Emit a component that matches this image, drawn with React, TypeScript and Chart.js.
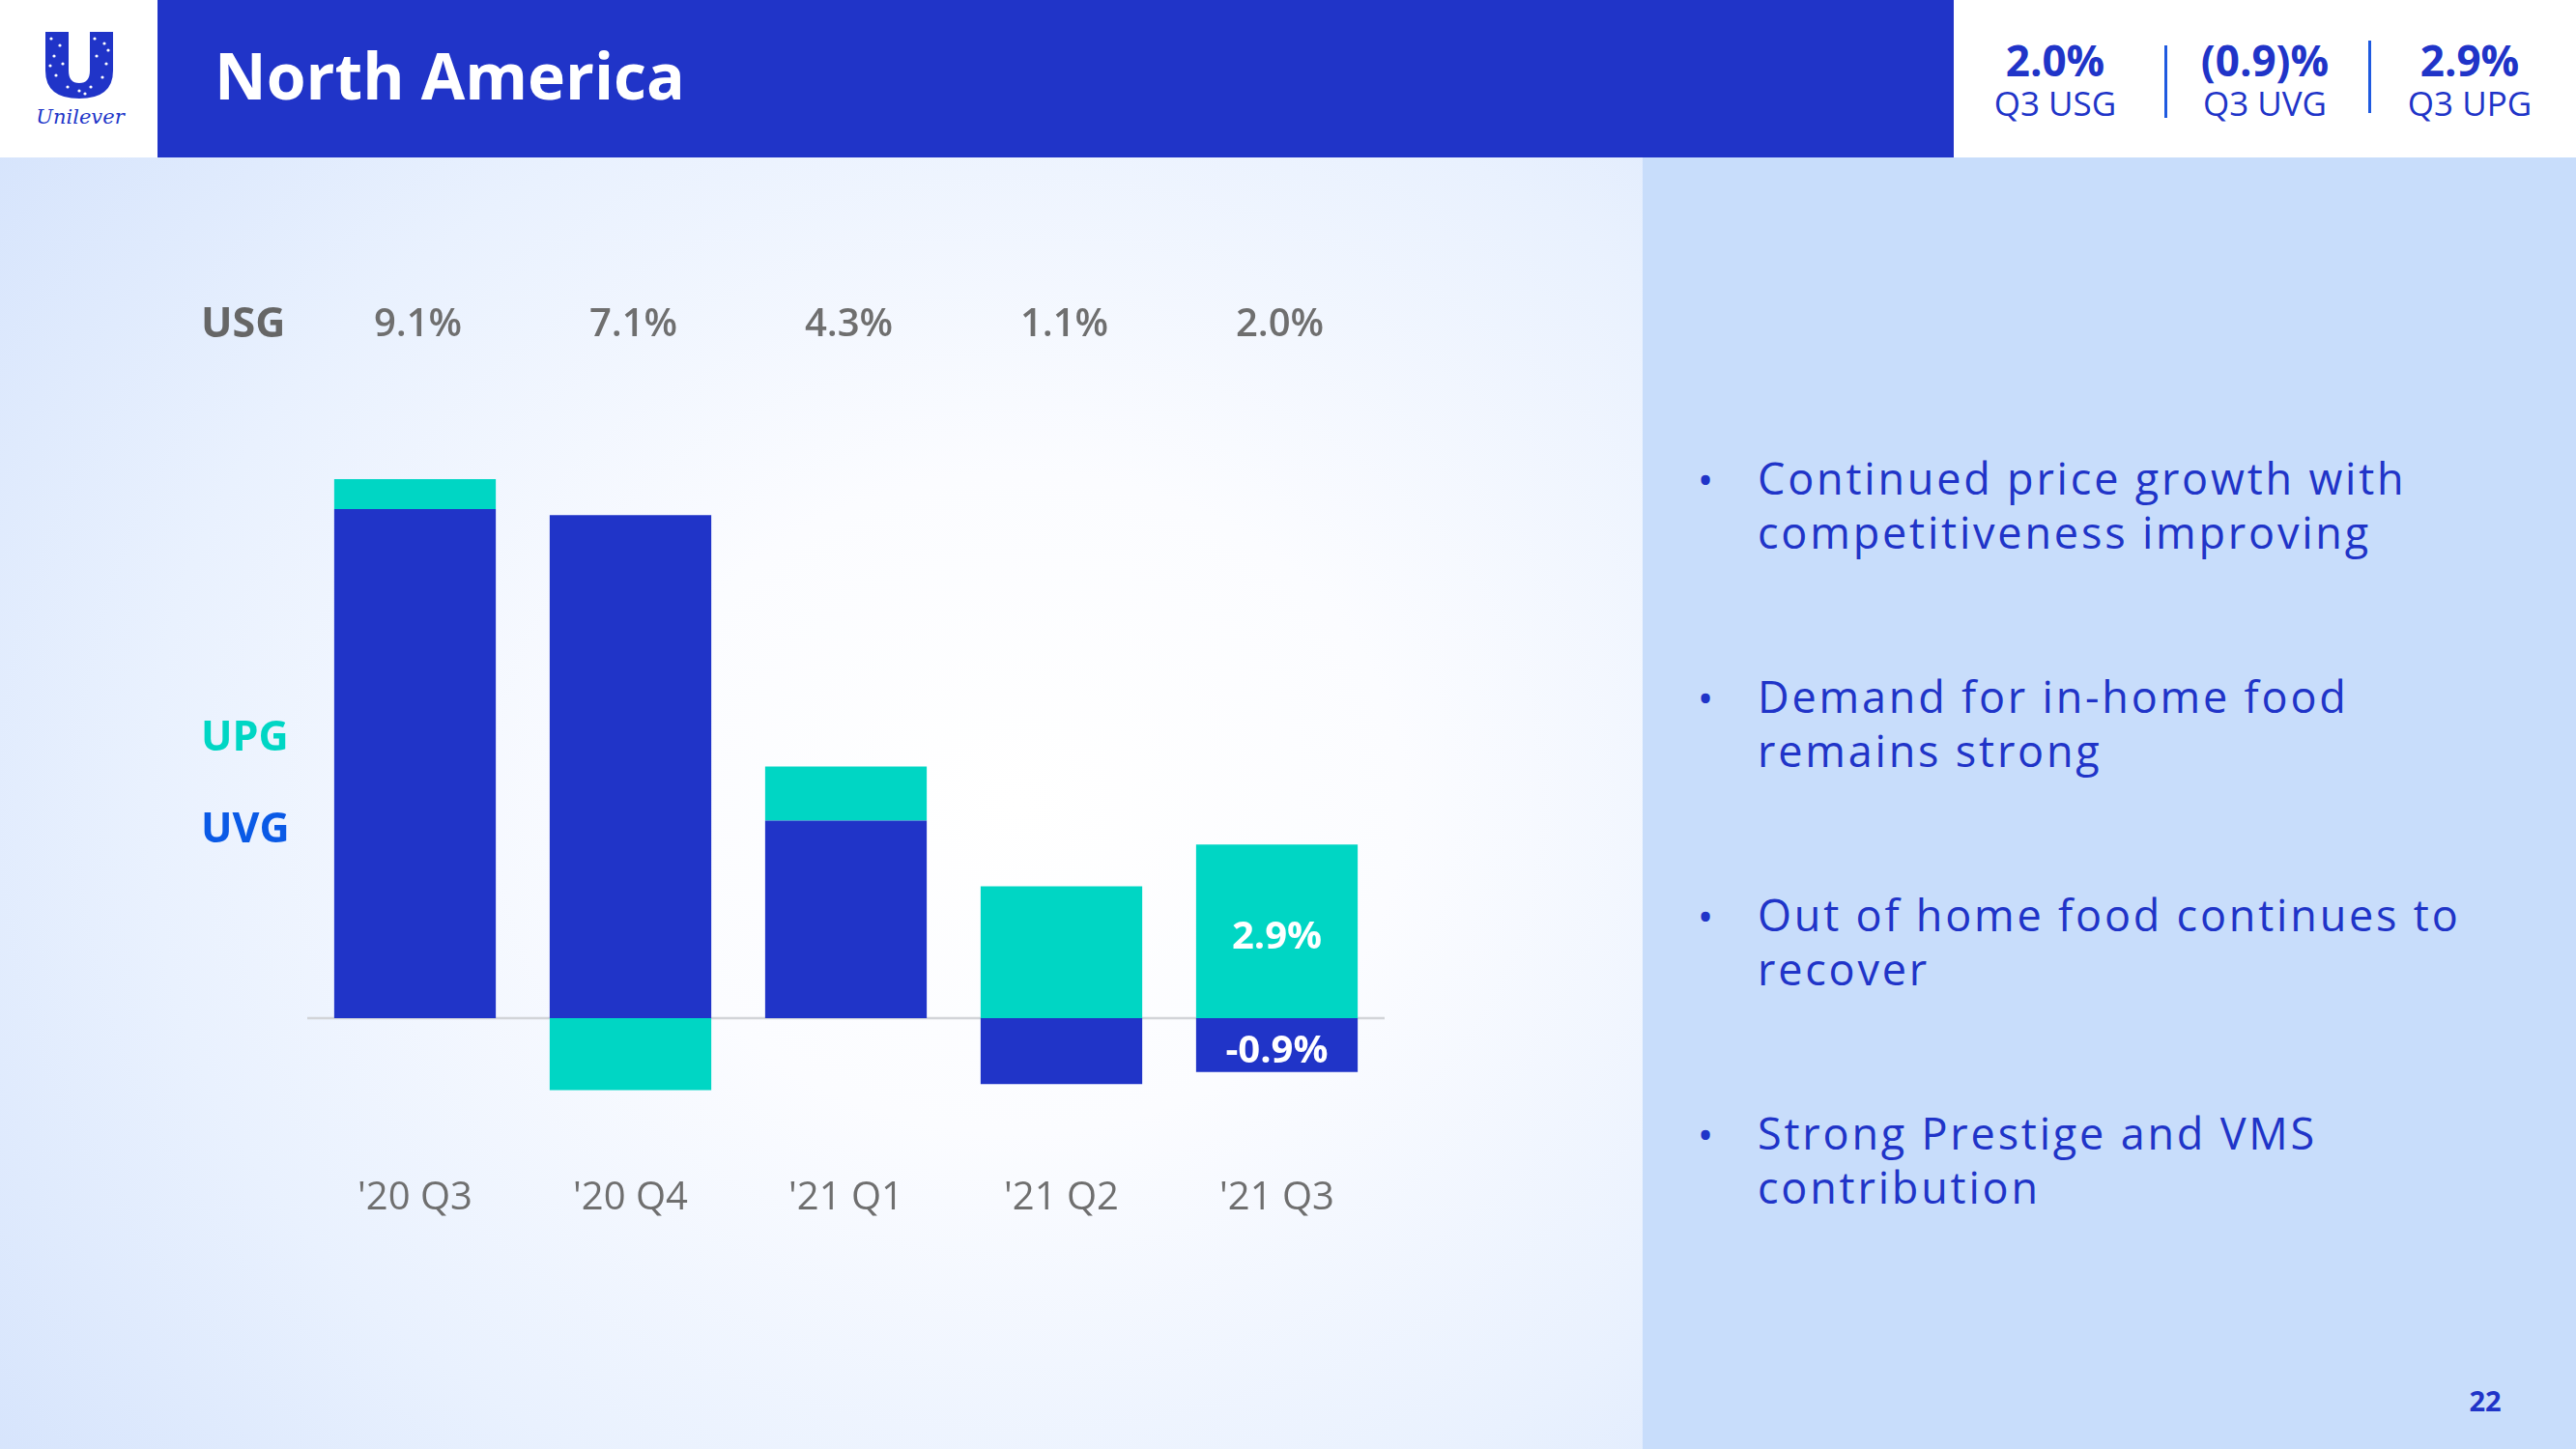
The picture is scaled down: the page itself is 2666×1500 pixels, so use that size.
import React, { useEffect, useRef } from "react";
import { Chart, registerables } from "chart.js";

Chart.register(...registerables);

const categories = ["'20 Q3", "'20 Q4", "'21 Q1", "'21 Q2", "'21 Q3"];
const uvgValues = [8.5, 8.4, 3.3, -1.1, -0.9];
const upgValues = [0.5, -1.2, 0.9, 2.2, 2.9];
const usgLabels = ["9.1%", "7.1%", "4.3%", "1.1%", "2.0%"];
const labeledIndex = 4;

const kpiValues = ["2.0%", "(0.9)%", "2.9%"];
const kpiLabels = ["Q3 USG", "Q3 UVG", "Q3 UPG"];

const bullets = [
  ["Continued price growth with", "competitiveness improving"],
  ["Demand for in-home food", "remains strong"],
  ["Out of home food continues to", "recover"],
  ["Strong Prestige and VMS", "contribution"],
];

const BLUE = "#2034c8";
const TEAL = "#00d6c4";
const UVG_LABEL = "#0a5ae6";
const GRAY = "#6f6f6f";
const FONT = "'Open Sans', 'DejaVu Sans', sans-serif";

const fmt = (v: number) => (v < 0 ? "-" : "") + Math.abs(v).toFixed(1) + "%";

const textPlugin = {
  id: "slideText",
  beforeDatasetsDraw(chart: any) {
    const { ctx, chartArea, scales } = chart;
    const y0 = scales.y.getPixelForValue(0);
    ctx.save();
    ctx.strokeStyle = "#d2d4d8";
    ctx.lineWidth = 2.5;
    ctx.beginPath();
    ctx.moveTo(chartArea.left, y0);
    ctx.lineTo(chartArea.right, y0);
    ctx.stroke();
    ctx.restore();
  },
  afterDraw(chart: any) {
    const { ctx, scales } = chart;
    const x = scales.x;
    const y = scales.y;
    ctx.save();
    ctx.textBaseline = "alphabetic";
    // USG row
    ctx.textAlign = "left";
    ctx.fillStyle = "#666666";
    ctx.font = `bold 43px ${FONT}`;
    ctx.fillText("USG", 208, 349);
    ctx.textAlign = "center";
    ctx.fillStyle = GRAY;
    ctx.font = `600 40px ${FONT}`;
    usgLabels.forEach((t, i) => ctx.fillText(t, x.getPixelForValue(i) + 3, 348));
    // legend labels
    ctx.textAlign = "left";
    ctx.font = `bold 43px ${FONT}`;
    ctx.fillStyle = TEAL;
    ctx.fillText(chart.data.datasets[1].label, 208, 777);
    ctx.fillStyle = UVG_LABEL;
    ctx.fillText(chart.data.datasets[0].label, 208, 872);
    // category labels
    ctx.textAlign = "center";
    ctx.fillStyle = GRAY;
    ctx.font = `40px ${FONT}`;
    categories.forEach((c, i) => ctx.fillText(c, x.getPixelForValue(i), 1252));
    // inside labels on the last bar
    ctx.fillStyle = "#ffffff";
    ctx.font = `bold 40px ${FONT}`;
    const cx = x.getPixelForValue(labeledIndex);
    const up = upgValues[labeledIndex];
    const uv = uvgValues[labeledIndex];
    const upMid = (y.getPixelForValue(0) + y.getPixelForValue(up)) / 2;
    const uvMid = (y.getPixelForValue(0) + y.getPixelForValue(uv)) / 2;
    ctx.fillText(fmt(up), cx, upMid + 18);
    ctx.fillText(fmt(uv), cx, uvMid + 18);
    ctx.restore();
  },
};

function BarChart() {
  const ref = useRef<HTMLCanvasElement | null>(null);
  useEffect(() => {
    if (!ref.current) return;
    const chart = new Chart(ref.current, {
      type: "bar",
      data: {
        labels: categories,
        datasets: [
          {
            label: "UVG",
            data: uvgValues,
            backgroundColor: BLUE,
            borderWidth: 0,
            barPercentage: 0.75,
            categoryPercentage: 1,
          },
          {
            label: "UPG",
            data: upgValues,
            backgroundColor: TEAL,
            borderWidth: 0,
            barPercentage: 0.75,
            categoryPercentage: 1,
          },
        ],
      },
      options: {
        animation: false,
        responsive: false,
        maintainAspectRatio: false,
        layout: { padding: { left: 318, right: 267, top: 434, bottom: 291 } },
        plugins: { legend: { display: false }, tooltip: { enabled: false } },
        scales: {
          x: { display: false, stacked: true },
          y: { display: false, stacked: true, min: -2.5, max: 10 },
        },
      },
      plugins: [textPlugin],
    });
    return () => chart.destroy();
  }, []);
  return (
    <canvas
      ref={ref}
      width={1700}
      height={1500}
      style={{ position: "absolute", left: 0, top: 0, width: 1700, height: 1500 }}
    />
  );
}

function Logo() {
  return (
    <div style={{ position: "absolute", left: 0, top: 0, width: 163, height: 163, background: "#fff" }}>
      <svg width={163} height={163} style={{ position: "absolute", left: 0, top: 0 }}>
        <path
          d="M47,33 H71 V73 Q71,86 82,86 Q93,86 93,73 V33 H117 V73 Q117,102 82,102 Q47,102 47,73 Z"
          fill={BLUE}
        />
        {[
          [53, 40], [62, 47], [56, 58], [65, 66], [58, 78], [70, 90], [82, 94], [94, 90],
          [106, 80], [110, 66], [100, 58], [108, 45], [98, 40], [112, 52], [52, 68], [88, 97],
        ].map(([cx, cy], i) => (
          <circle key={i} cx={cx} cy={cy} r={1.6} fill="#ffffff" />
        ))}
        <text
          x={83}
          y={128}
          textAnchor="middle"
          fontFamily="'DejaVu Serif', serif"
          fontStyle="italic"
          fontSize={21}
          fill={BLUE}
        >
          Unilever
        </text>
      </svg>
    </div>
  );
}

export default function App() {
  const kpiCenters = [2127, 2344, 2556];
  const bulletTops = [468, 694, 920, 1146];
  return (
    <div
      style={{
        position: "fixed",
        left: 0,
        top: 0,
        width: 2666,
        height: 1500,
        overflow: "hidden",
        fontFamily: FONT,
        background: "#ffffff",
      }}
    >
      {/* left body background */}
      <div
        style={{
          position: "absolute",
          left: 0,
          top: 163,
          width: 1700,
          height: 1337,
          background:
            "radial-gradient(ellipse 78% 85% at 62% 50%, #ffffff 0%, #fbfcff 30%, #e9f1fe 68%, #d6e4fc 100%)",
        }}
      />
      {/* right panel */}
      <div
        style={{ position: "absolute", left: 1700, top: 163, width: 966, height: 1337, background: "#c8ddfb" }}
      />
      <BarChart />
      {/* header */}
      <Logo />
      <div style={{ position: "absolute", left: 163, top: 0, width: 1859, height: 163, background: BLUE }} />
      <div
        style={{
          position: "absolute",
          left: 222,
          top: 44,
          fontSize: 66,
          lineHeight: "66px",
          fontWeight: 700,
          color: "#ffffff",
          whiteSpace: "nowrap",
        }}
      >
        North America
      </div>
      <div style={{ position: "absolute", left: 2022, top: 0, width: 644, height: 163, background: "#ffffff" }} />
      {kpiCenters.map((c, i) => (
        <React.Fragment key={i}>
          <div
            style={{
              position: "absolute",
              left: c - 150,
              width: 300,
              top: 40,
              textAlign: "center",
              fontSize: 44,
              lineHeight: "44px",
              fontWeight: 700,
              color: BLUE,
            }}
          >
            {kpiValues[i]}
          </div>
          <div
            style={{
              position: "absolute",
              left: c - 150,
              width: 300,
              top: 89,
              textAlign: "center",
              fontSize: 35,
              lineHeight: "35px",
              color: BLUE,
            }}
          >
            {kpiLabels[i]}
          </div>
        </React.Fragment>
      ))}
      <div style={{ position: "absolute", left: 2240, top: 47, width: 3, height: 75, background: "#1f5ae0" }} />
      <div style={{ position: "absolute", left: 2451, top: 42, width: 3, height: 75, background: "#1f5ae0" }} />
      {/* bullets */}
      {bullets.map((lines, i) => (
        <React.Fragment key={i}>
          <div
            style={{
              position: "absolute",
              left: 1745,
              width: 40,
              top: bulletTops[i],
              textAlign: "center",
              fontSize: 44,
              lineHeight: "56px",
              color: BLUE,
            }}
          >
            •
          </div>
          <div
            style={{
              position: "absolute",
              left: 1819,
              top: bulletTops[i] - 1,
              fontSize: 45,
              letterSpacing: "2.8px",
              lineHeight: "56px",
              color: BLUE,
              whiteSpace: "nowrap",
            }}
          >
            {lines.map((l, j) => (
              <div key={j}>{l}</div>
            ))}
          </div>
        </React.Fragment>
      ))}
      <div
        style={{
          position: "absolute",
          left: 2532,
          width: 80,
          top: 1435,
          textAlign: "center",
          fontSize: 29,
          lineHeight: "29px",
          fontWeight: 700,
          color: BLUE,
        }}
      >
        22
      </div>
    </div>
  );
}
